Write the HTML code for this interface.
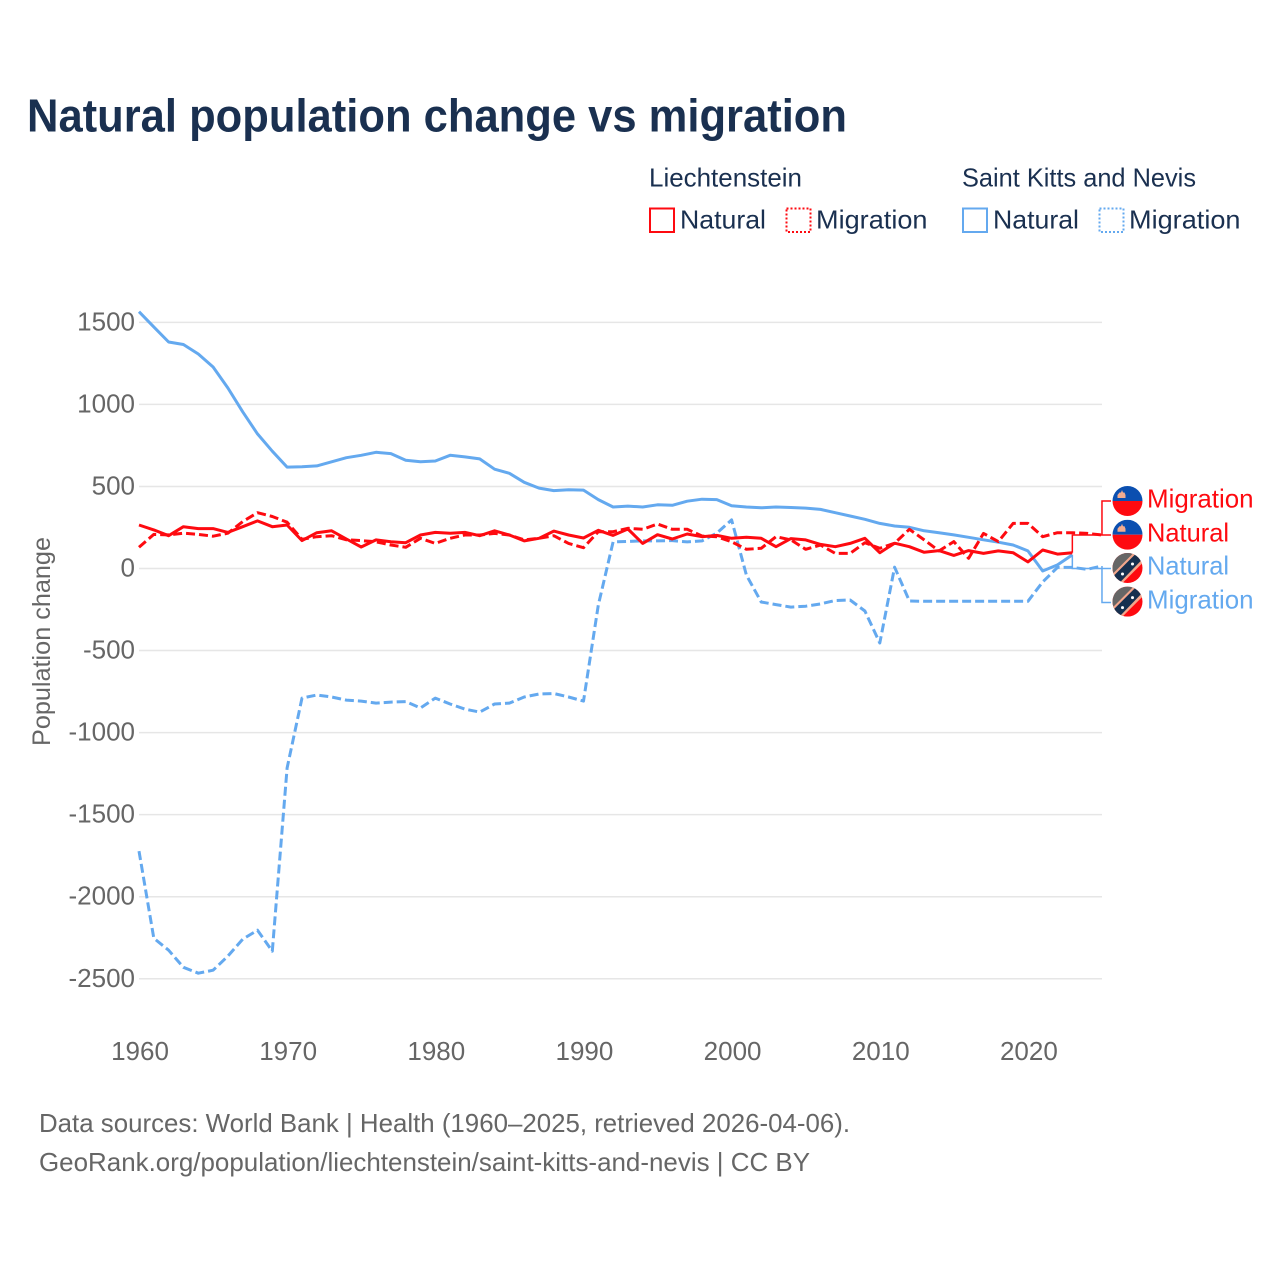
<!DOCTYPE html>
<html lang="en">
<head>
<meta charset="utf-8">
<title>Natural population change vs migration</title>
<style>
html,body{margin:0;padding:0;background:#fff;}
svg{display:block;font-family:"Liberation Sans",sans-serif;}
</style>
</head>
<body>
<svg id="chart" xmlns="http://www.w3.org/2000/svg" width="1280" height="1280" viewBox="0 0 1280 1280">
<defs>
<clipPath id="flag-clip"><circle cx="0" cy="0" r="15"/></clipPath>
<g id="flag-li">
<g clip-path="url(#flag-clip)">
<rect x="-15" y="-15" width="30" height="15" fill="#0b4fb0"/>
<rect x="-15" y="0" width="30" height="15" fill="#fe0a10"/>
<path d="M-10-3h8v-3l-1-2.500h-1.500l-1-2.500-1 2.500h-1.500l-2 2.500z" fill="#f3ac90"/>
</g>
</g>
<g id="flag-kn">
<g clip-path="url(#flag-clip)">
<rect x="-15" y="-15" width="30" height="30" fill="#fe0a10"/>
<path d="M-15-15H15L-15 15z" fill="#666"/>
<path d="M-15 6L6-15h11v8L-7 17h-8z" fill="#f3a78c"/>
<path d="M-15 9L9-15h8v4L-10 17h-5z" fill="#16304f"/>
<circle cx="-5" cy="6" r="1.500" fill="#fff"/>
<circle cx="5" cy="-4" r="1.500" fill="#fff"/>
</g>
</g>
</defs>

<text x="27" y="131.500" font-size="46" font-weight="700" fill="#1a3050" textLength="820" lengthAdjust="spacingAndGlyphs">Natural population change vs migration</text>

<g font-size="26" fill="#1a3050">
<text x="649" y="186.500" textLength="153" lengthAdjust="spacingAndGlyphs">Liechtenstein</text>
<text x="962" y="186.500" textLength="234" lengthAdjust="spacingAndGlyphs">Saint Kitts and Nevis</text>
<rect x="650" y="208.500" width="24" height="23.500" fill="none" stroke="#fe0a10" stroke-width="2"/>
<text x="680" y="228.500" textLength="86" lengthAdjust="spacingAndGlyphs">Natural</text>
<rect x="786.500" y="208.500" width="24" height="23.500" fill="none" stroke="#fe0a10" stroke-width="2" stroke-dasharray="2 2"/>
<text x="816" y="228.500" textLength="111.500" lengthAdjust="spacingAndGlyphs">Migration</text>
<rect x="963" y="208.500" width="24" height="23.500" fill="none" stroke="#64a9ef" stroke-width="2"/>
<text x="993" y="228.500" textLength="86" lengthAdjust="spacingAndGlyphs">Natural</text>
<rect x="1099.500" y="208.500" width="24" height="23.500" fill="none" stroke="#64a9ef" stroke-width="2" stroke-dasharray="2 2"/>
<text x="1129" y="228.500" textLength="111.500" lengthAdjust="spacingAndGlyphs">Migration</text>
</g>

<g id="grid"></g>
<g id="yticks" font-size="26" fill="#666" text-anchor="end"></g>
<g id="xticks" font-size="26" fill="#666" text-anchor="middle"></g>
<text transform="translate(50,746) rotate(-90)" x="0" y="0" font-size="25" fill="#666" textLength="209" lengthAdjust="spacingAndGlyphs">Population change</text>
<g id="series"></g>
<g id="connectors"></g>

<g font-size="26">
<use href="#flag-li" x="1127.500" y="501"/>
<text x="1147" y="507.500" fill="#fe0a10" textLength="106.500" lengthAdjust="spacingAndGlyphs">Migration</text>
<use href="#flag-li" x="1127.500" y="534.700"/>
<text x="1147" y="541.500" fill="#fe0a10" textLength="82" lengthAdjust="spacingAndGlyphs">Natural</text>
<use href="#flag-kn" x="1127.500" y="568"/>
<text x="1147" y="574.500" fill="#64a9ef" textLength="82" lengthAdjust="spacingAndGlyphs">Natural</text>
<use href="#flag-kn" x="1127.500" y="601.600"/>
<text x="1147" y="608.500" fill="#64a9ef" textLength="106.500" lengthAdjust="spacingAndGlyphs">Migration</text>
</g>

<g font-size="26" fill="#666">
<text x="39" y="1132" textLength="811" lengthAdjust="spacingAndGlyphs">Data sources: World Bank | Health (1960–2025, retrieved 2026-04-06).</text>
<text x="39" y="1171" textLength="771" lengthAdjust="spacingAndGlyphs">GeoRank.org/population/liechtenstein/saint-kitts-and-nevis | CC BY</text>
</g>
</svg>

<script>
const startYear = 1960;
const yTickValues = [1500, 1000, 500, 0, -500, -1000, -1500, -2000, -2500];
const xTickValues = [1960, 1970, 1980, 1990, 2000, 2010, 2020];
const liNatural = [265,235,200,255,243,243,220,255,290,255,265,170,218,230,180,131,174,163,157,204,220,215,220,200,230,204,168,184,228,204,186,233,202,241,153,206,180,210,194,202,184,190,184,133,182,174,147,133,153,184,96,154,133,99,109,80,109,92,107,96,40,113,88,96];
const liMigration = [129,208,205,215,208,197,215,286,340,317,282,178,194,200,175,170,163,143,129,184,153,184,204,204,214,204,174,184,200,153,127,224,224,245,239,271,239,239,198,194,163,117,123,194,174,117,143,92,92,157,123,154,239,174,107,164,62,214,164,275,275,194,218,218,214,204];
const knNatural = [1565,1472,1380,1365,1307,1228,1100,955,820,715,618,620,625,650,675,690,708,700,660,650,655,690,680,668,605,580,525,490,475,480,478,420,375,380,375,388,385,410,422,420,382,375,370,375,372,368,360,340,320,300,275,259,251,230,218,205,190,175,160,143,107,-15,22,83];
const knMigration = [-1722,-2253,-2326,-2430,-2466,-2448,-2362,-2259,-2204,-2332,-1216,-790,-771,-783,-802,-808,-820,-814,-811,-850,-790,-826,-857,-875,-826,-820,-783,-765,-762,-783,-808,-223,162,165,168,168,170,162,168,216,296,-40,-204,-220,-235,-230,-216,-195,-192,-259,-454,8,-198,-200,-200,-200,-200,-200,-200,-200,-200,-82,7,7,-5,15];

const SVG_NS = 'http://www.w3.org/2000/svg';
const RED = '#fe0a10';
const BLUE = '#64a9ef';
function xScale(year) { return 139 + (year - startYear) * 14.815; }
function yScale(value) { return 568.5 - value * 0.1641; }
function linePath(values) {
  return values.map(function (v, i) {
    return (i ? 'L' : 'M') + xScale(startYear + i).toFixed(1) + ' ' + yScale(v).toFixed(1);
  }).join('');
}
function make(tag, parentId, attrs) {
  const el = document.createElementNS(SVG_NS, tag);
  Object.keys(attrs).forEach(function (k) { el.setAttribute(k, attrs[k]); });
  document.getElementById(parentId).appendChild(el);
  return el;
}

yTickValues.forEach(function (t) {
  const grid = make('line', 'grid', { x1: 139, x2: 1102, y1: yScale(t), y2: yScale(t), stroke: '#e6e6e6', 'stroke-width': 1.5 });
  
  
  const label = make('text', 'yticks', { x: 135, y: yScale(t) + 8 });
  
  
  label.textContent = String(t);
});
xTickValues.forEach(function (t) {
  const label = make('text', 'xticks', { x: xScale(t) + 1, y: 1060 });
  
  
  label.textContent = String(t);
});

const kn1 = make('path', 'series', { d: linePath(knNatural), fill: 'none', stroke: BLUE, 'stroke-width': 3, 'stroke-linejoin': 'round' });


const kn2 = make('path', 'series', { d: linePath(knMigration), fill: 'none', stroke: BLUE, 'stroke-width': 3, 'stroke-dasharray': '9 4', 'stroke-linejoin': 'round' });


const li2 = make('path', 'series', { d: linePath(liMigration), fill: 'none', stroke: RED, 'stroke-width': 3, 'stroke-dasharray': '9 4', 'stroke-linejoin': 'round' });


const li1 = make('path', 'series', { d: linePath(liNatural), fill: 'none', stroke: RED, 'stroke-width': 3, 'stroke-linejoin': 'round' });



function connector(values, labelY, color) {
  const lastX = xScale(startYear + values.length - 1);
  const lastY = yScale(values[values.length - 1]);
  return make('path', 'connectors', {
    d: 'M' + lastX + ' ' + lastY + 'V' + labelY + 'H1111',
    fill: 'none', stroke: color, 'stroke-width': 1.500
  });
}
const c1 = connector(liMigration, 501, RED);


const c2 = connector(liNatural, 535, RED);


const c3 = connector(knNatural, 568.500, BLUE);


const c4 = connector(knMigration, 602.500, BLUE);


</script>
</body>
</html>
